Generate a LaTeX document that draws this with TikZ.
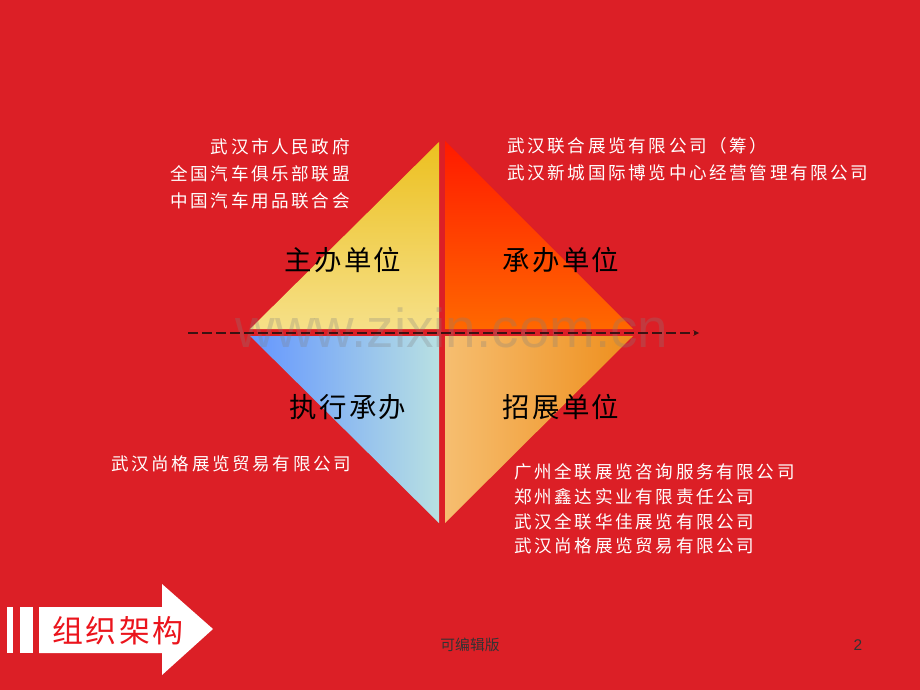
\documentclass[tikz,border=0pt]{standalone}
\usepackage{fontspec}
\newfontfamily\cjk[LetterSpace=15]{Noto Sans CJK SC}
\newfontfamily\cjkbig[LetterSpace=8]{Noto Sans CJK SC}
\newfontfamily\cjkplain{Noto Sans CJK SC}
\newfontfamily\wmfont{Liberation Sans}
\definecolor{bgred}{RGB}{220,31,38}
\definecolor{linedark}{RGB}{60,18,18}
\tikzset{
  whitelist/.style={text=white,font=\cjk\fontsize{12.5}{19}\selectfont,inner sep=0pt,align=left},
  quadlabel/.style={text=black,font=\cjkbig\fontsize{19.5}{24}\selectfont,inner sep=0pt}
}
\begin{document}
\begin{tikzpicture}[x=0.025cm,y=-0.025cm]
\useasboundingbox (0,0) rectangle (920,690);
\fill [bgred] (0,0) rectangle (920,690);

% four quarters of the diamond
\shade [top color={rgb,255:red,236;green,192;blue,32},bottom color={rgb,255:red,246;green,224;blue,136}] (439,142)--(439,329)--(250,329)--cycle;
\shade [top color={rgb,255:red,255;green,26;blue,0},bottom color={rgb,255:red,255;green,104;blue,0}] (445,141)--(445,329)--(633,329)--cycle;
\shade [left color={rgb,255:red,100;green,150;blue,255},right color={rgb,255:red,184;green,224;blue,226}] (250,336)--(439,336)--(439,523)--cycle;
\shade [left color={rgb,255:red,246;green,190;blue,112},right color={rgb,255:red,238;green,142;blue,28}] (445,336)--(633,336)--(445,523)--cycle;

% watermark
\node (wm) at (452,328) [text={rgb,255:red,128;green,128;blue,128},opacity=0.28,font=\wmfont\fontsize{39}{39}\selectfont,inner sep=0pt] {www.zixin.com.cn};

% axis
\coordinate (axl) at (188,333);
\coordinate (axr) at (699,333);
\draw [-stealth,thick,linedark,dash pattern=on 7pt off 3pt] (axl)--(axr);

% labels
\node (zhuban) at (343,260) [quadlabel] {主办单位};
\node (chengban) at (561,260) [quadlabel] {承办单位};
\node (zhixing) at (348,407) [quadlabel] {执行承办};
\node (zhaozhan) at (561,407) [quadlabel] {招展单位};

\node (govt) at (350,174) [whitelist,anchor=east,align=right] {武汉市人民政府\\全国汽车俱乐部联盟\\中国汽车用品联合会};
\node (hosts) at (507,159) [whitelist,anchor=west] {武汉联合展览有限公司（筹）\\武汉新城国际博览中心经营管理有限公司};
\node (exec) at (111,464) [whitelist,anchor=west] {武汉尚格展览贸易有限公司};
\node (agents) at (514,509) [whitelist,anchor=west,font=\cjk\fontsize{12.5}{17.5}\selectfont] {广州全联展览咨询服务有限公司\\郑州鑫达实业有限责任公司\\武汉全联华佳展览有限公司\\武汉尚格展览贸易有限公司};

% title banner
\fill [white] (7,607) rectangle (13,653);
\fill [white] (20,607) rectangle (33,653);
\fill [white] (39,607)--(162,607)--(162,584)--(213,629)--(162,675)--(162,653)--(39,653)--cycle;
\node (title) at (118,631) [text={rgb,255:red,235;green,20;blue,28},font=\cjkbig\fontsize{22}{26}\selectfont,inner sep=0pt] {组织架构};

% footer
\node (footer) at (470,645) [text=black!80,font=\cjkplain\fontsize{10.5}{12}\selectfont,inner sep=0pt] {可编辑版};
\node (page) at (858,645) [text=black!80,font=\wmfont\fontsize{11}{12}\selectfont,inner sep=0pt] {2};
\end{tikzpicture}
\end{document}
